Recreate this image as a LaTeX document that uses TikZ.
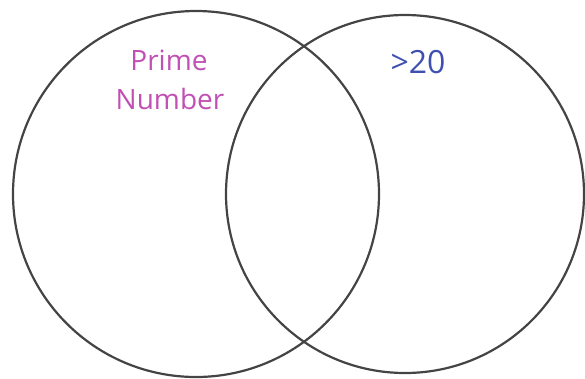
\documentclass[tikz,border=0pt]{standalone}
\usepackage{fontspec}
\setmainfont{Open Sans}
\definecolor{ringgray}{HTML}{444444}
\definecolor{primecol}{HTML}{C050B4}
\definecolor{bluecol}{HTML}{4050B0}
\begin{document}
\begin{tikzpicture}[x=1pt,y=-1pt,
  ring/.style={draw=ringgray,line width=2.2pt},
  lbl/.style={anchor=base,inner sep=0pt,font=\fontsize{28}{39}\selectfont}]
\useasboundingbox (0,0) rectangle (585,378);
\node[ring,circle,minimum size=366pt,inner sep=0pt] (left) at (196,194) {};
\node[ring,circle,minimum size=358pt,inner sep=0pt] (right) at (405,194) {};
\node[lbl,text=primecol] (prime) at (169,70) {Prime};
\node[lbl,text=primecol] (number) at (170,109) {Number};
\node[lbl,text=bluecol,font=\fontsize{32}{36}\selectfont] (gt) at (418,73) {>20};
\end{tikzpicture}
\end{document}
